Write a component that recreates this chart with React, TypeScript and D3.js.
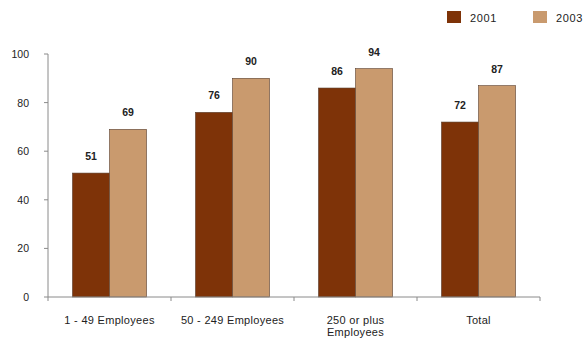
import React from "react";
import * as d3 from "d3";

const categories = ["1 - 49 Employees", "50 - 249 Employees", "250 or plus\nEmployees", "Total"];
const seriesNames = ["2001", "2003"];
const values2001 = [51, 76, 86, 72];
const values2003 = [69, 90, 94, 87];
const yTicks = [0, 20, 40, 60, 80, 100];
const colors = ["#7e3308", "#c99a6e"];

export default function App() {
  const W = 585, H = 338;
  const left = 48, right = 540, top = 54, bottom = 297;
  const x = d3.scaleBand<string>().domain(categories).range([left, right]).paddingInner(0).paddingOuter(0);
  const y = d3.scaleLinear().domain([0, 100]).range([bottom, top]);
  const inner = d3.scaleBand<string>().domain(seriesNames).range([0, x.bandwidth()]).paddingOuter(0.66).paddingInner(0);
  const series = [values2001, values2003];
  const font = "Liberation Sans, Arial, sans-serif";
  const axisColor = "#8a8a8a";
  return (
    <svg width={W} height={H} style={{ position: "absolute", left: 0, top: 0, background: "#fff" }} fontFamily={font}>
      {seriesNames.map((s, i) => {
        const lx = [447, 533][i];
        return (
          <g key={s}>
            <rect x={lx} y={11} width={14} height={12} fill={colors[i]} />
            <text x={lx + 23} y={21.5} fontSize={11} letterSpacing={0.6} fill="#222">{s}</text>
          </g>
        );
      })}
      <line x1={left} x2={left} y1={top} y2={bottom} stroke={axisColor} strokeWidth={1} />
      {yTicks.map(t => (
        <g key={t}>
          <line x1={left - 4} x2={left} y1={y(t)} y2={y(t)} stroke={axisColor} />
          <text x={29} y={y(t) + 4} fontSize={10.5} textAnchor="end" fill="#222">{t}</text>
        </g>
      ))}
      {categories.map((c, ci) => (
        <g key={c}>
          {seriesNames.map((s, si) => {
            const v = series[si][ci];
            const bx = (x(c) as number) + (inner(s) as number);
            const bw = inner.bandwidth();
            return (
              <g key={s}>
                <rect x={bx} y={y(v)} width={bw} height={bottom - y(v)} fill={colors[si]} stroke="#5a4030" strokeWidth={0.6} />
                <text x={bx + bw / 2} y={y(v) - 13} fontSize={10.5} fontWeight="bold" textAnchor="middle" fill="#222">{v}</text>
              </g>
            );
          })}
        </g>
      ))}
      <line x1={left} x2={right} y1={bottom} y2={bottom} stroke={axisColor} />
      {[...categories.map(c => x(c) as number), right].map((tx, i) => (
        <line key={i} x1={tx} x2={tx} y1={bottom} y2={bottom + 4} stroke={axisColor} />
      ))}
      {categories.map(c => {
        const lines = c.split("\n");
        const cx = (x(c) as number) + x.bandwidth() / 2;
        return (
          <text key={c} x={cx} y={324} fontSize={11} letterSpacing={0.3} textAnchor="middle" fill="#222">
            {lines.map((l, i) => (
              <tspan key={i} x={cx} dy={i === 0 ? 0 : 12}>{l}</tspan>
            ))}
          </text>
        );
      })}
    </svg>
  );
}
